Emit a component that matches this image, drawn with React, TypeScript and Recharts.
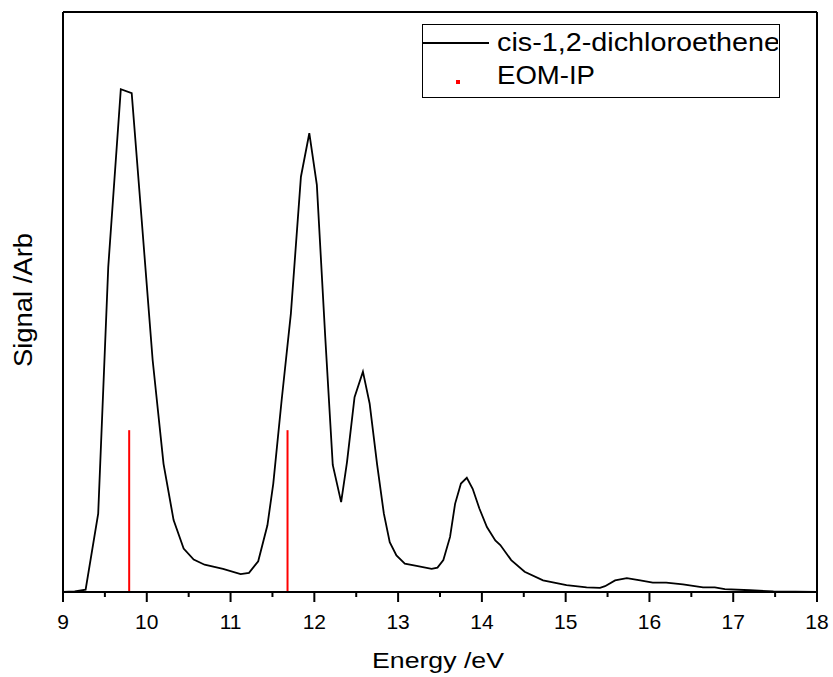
import {
  ComposedChart,
  Line,
  XAxis,
  YAxis,
  ReferenceLine,
  Legend,
} from 'recharts'

const FONT = '"Liberation Sans", Arial, sans-serif'

// photoelectron spectrum (signal in arbitrary units, frame top = 100)
const energy = [
  9.0, 9.14, 9.27, 9.42, 9.54, 9.69, 9.82, 9.94, 10.07, 10.2, 10.32, 10.44, 10.56, 10.69,
  10.91, 11.12, 11.22, 11.33, 11.44, 11.51, 11.61, 11.72, 11.84, 11.94, 12.03, 12.13, 12.22,
  12.32, 12.39, 12.48, 12.58, 12.66, 12.75, 12.83, 12.9, 12.98, 13.08, 13.22, 13.4, 13.47,
  13.54, 13.62, 13.68, 13.75, 13.82, 13.89, 13.97, 14.06, 14.16, 14.22, 14.35, 14.51, 14.73,
  15.01, 15.25, 15.41, 15.47, 15.59, 15.73, 15.89, 16.04, 16.2, 16.4, 16.64, 16.78, 16.9,
  17.2, 17.48, 18.0,
]
const signal = [
  0, 0.1, 0.4, 13.5, 56, 86.7, 86.0, 64, 40, 22.1, 12.4, 7.5, 5.6, 4.7,
  4.0, 3.1, 3.3, 5.3, 11.5, 18.7, 33.1, 48, 71.6, 79.1, 70.2, 44, 21.9,
  15.5, 22.4, 33.6, 38.0, 32.5, 21.9, 13.5, 8.6, 6.3, 4.9, 4.5, 4.0, 4.2,
  5.5, 9.5, 15.2, 18.7, 19.7, 17.8, 14.4, 11.2, 8.9, 8.1, 5.5, 3.5, 2.0,
  1.2, 0.8, 0.7, 1.0, 2.0, 2.4, 2.0, 1.6, 1.6, 1.3, 0.8, 0.8, 0.5,
  0.3, 0.1, 0,
]

// EOM-IP stick positions
const eomEnergy = [9.79, 11.68]
const eomHeight = [27.9, 27.9]

const majorTicks = [9, 10, 11, 12, 13, 14, 15, 16, 17, 18]
const minorTicks = [9.5, 10.5, 11.5, 12.5, 13.5, 14.5, 15.5, 16.5, 17.5]

const spectrum = energy.map((x, i) => ({ x, y: signal[i] }))
const sticks = eomEnergy.map((x, i) => [
  { x, y: 0 },
  { x, y: eomHeight[i] },
])

function XTick({ x, y, payload }: any) {
  const major = majorTicks.includes(payload.value)
  return (
    <g>
      <line x1={x} x2={x} y1={y} y2={y + (major ? 10 : 5)} stroke="#000" strokeWidth={2} />
      {major && (
        <text x={x} y={y + 37} textAnchor="middle" fontSize={21} fontFamily={FONT} fill="#000">
          {payload.value}
        </text>
      )}
    </g>
  )
}

function LegendBox() {
  return (
    <div style={{ width: 358, height: 74, border: '1.5px solid #000', boxSizing: 'border-box', background: '#fff' }}>
      <svg width={355} height={71} style={{ display: 'block' }}>
        <line x1={0} x2={66} y1={18} y2={18} stroke="#000" strokeWidth={1.8} />
        <text x={74} y={26} fontSize={25} fontFamily={FONT} textLength={283} lengthAdjust="spacingAndGlyphs">
          cis-1,2-dichloroethene
        </text>
        <rect x={33} y={55} width={4} height={4} fill="#ff0000" />
        <text x={74} y={59} fontSize={25} fontFamily={FONT} textLength={98} lengthAdjust="spacingAndGlyphs">
          EOM-IP
        </text>
      </svg>
    </div>
  )
}

export default function App() {
  return (
    <div style={{ position: 'absolute', left: 0, top: 0, background: '#fff' }}>
      <ComposedChart width={833} height={677} margin={{ top: 12, right: 16, left: 0, bottom: 0 }}>
        <XAxis
          dataKey="x"
          type="number"
          domain={[9, 18]}
          ticks={[...majorTicks, ...minorTicks].sort((a, b) => a - b)}
          interval={0}
          allowDataOverflow
          height={85}
          tickSize={0}
          tickMargin={0}
          tickLine={false}
          tick={<XTick />}
          axisLine={{ stroke: '#000', strokeWidth: 2 }}
          label={{
            content: () => (
              <text
                x={438}
                y={668}
                textAnchor="middle"
                fontSize={22}
                fontFamily={FONT}
                textLength={132}
                lengthAdjust="spacingAndGlyphs"
              >
                Energy /eV
              </text>
            ),
          }}
        />
        <YAxis
          type="number"
          domain={[0, 100]}
          allowDataOverflow
          width={63}
          tick={false}
          tickLine={false}
          axisLine={{ stroke: '#000', strokeWidth: 2 }}
          label={{
            content: () => (
              <text
                transform="translate(32,300) rotate(-90)"
                x={0}
                y={0}
                textAnchor="middle"
                fontSize={25}
                fontFamily={FONT}
                textLength={134}
                lengthAdjust="spacingAndGlyphs"
              >
                Signal /Arb
              </text>
            ),
          }}
        />
        <ReferenceLine y={100} stroke="#000" strokeWidth={2} />
        <ReferenceLine x={18} stroke="#000" strokeWidth={2} />
        {sticks.map((d, i) => (
          <Line
            key={i}
            data={d}
            dataKey="y"
            stroke="#ff0000"
            strokeWidth={2}
            dot={false}
            isAnimationActive={false}
            legendType="none"
          />
        ))}
        <Line
          data={spectrum}
          dataKey="y"
          type="linear"
          stroke="#000"
          strokeWidth={1.8}
          dot={false}
          isAnimationActive={false}
        />
        <Legend
          layout="vertical"
          align="center"
          verticalAlign="middle"
          content={() => <LegendBox />}
          wrapperStyle={{ position: 'absolute', left: 422, top: 24, width: 358 }}
        />
      </ComposedChart>
    </div>
  )
}
